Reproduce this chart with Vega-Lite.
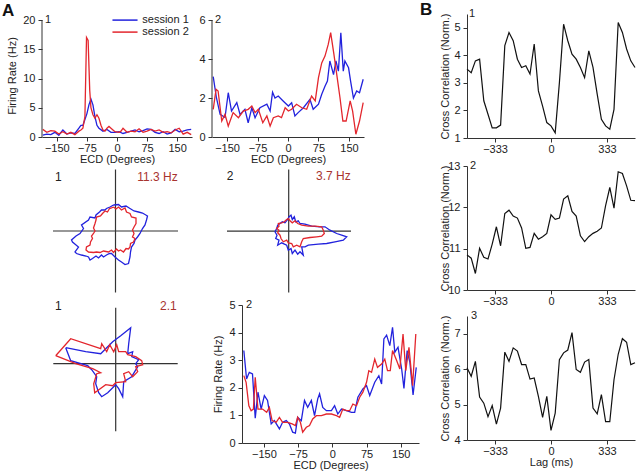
{
 "$schema": "https://vega.github.io/schema/vega-lite/v6.json",
 "padding": {"left": 2, "top": 1, "right": 0, "bottom": 0},
 "background": "white",
 "spacing": 1,
 "config": {
  "font": "Liberation Sans",
  "view": {"stroke": null},
  "axis": {"labelFont": "Liberation Sans", "titleFont": "Liberation Sans", "labelFontSize": 11, "titleFontSize": 11, "titleFontWeight": "normal", "labelColor": "#222", "titleColor": "#222", "domainColor": "#333", "tickColor": "#333", "tickSize": 4, "grid": false, "labelPadding": 3, "labelOverlap": false},
  "axisX": {"labelPadding": 1, "titlePadding": 0.5},
  "axisY": {"titlePadding": 5},
  "text": {"font": "Liberation Sans"}
 },
 "datasets": {
  "c1": [
   {"x":-185,"y":0.3,"s":"session 1"},{"x":-175,"y":0.5,"s":"session 1"},{"x":-165,"y":0.4,"s":"session 1"},{"x":-155,"y":0.8,"s":"session 1"},{"x":-145,"y":0.3,"s":"session 1"},{"x":-135,"y":1.2,"s":"session 1"},{"x":-125,"y":0.5,"s":"session 1"},{"x":-115,"y":0.7,"s":"session 1"},{"x":-105,"y":0.6,"s":"session 1"},{"x":-95,"y":1.5,"s":"session 1"},{"x":-90,"y":2.0,"s":"session 1"},{"x":-85,"y":2.0,"s":"session 1"},{"x":-80,"y":3.0,"s":"session 1"},{"x":-75,"y":4.0,"s":"session 1"},{"x":-70,"y":5.5,"s":"session 1"},{"x":-65,"y":6.5,"s":"session 1"},{"x":-60,"y":5.5,"s":"session 1"},{"x":-55,"y":3.5,"s":"session 1"},{"x":-50,"y":2.0,"s":"session 1"},{"x":-45,"y":1.5,"s":"session 1"},{"x":-35,"y":1.0,"s":"session 1"},{"x":-25,"y":1.3,"s":"session 1"},{"x":-15,"y":0.8,"s":"session 1"},{"x":-5,"y":0.8,"s":"session 1"},{"x":5,"y":0.9,"s":"session 1"},{"x":15,"y":0.6,"s":"session 1"},{"x":25,"y":0.8,"s":"session 1"},{"x":35,"y":1.0,"s":"session 1"},{"x":45,"y":1.2,"s":"session 1"},{"x":55,"y":0.9,"s":"session 1"},{"x":65,"y":1.1,"s":"session 1"},{"x":75,"y":1.4,"s":"session 1"},{"x":85,"y":1.3,"s":"session 1"},{"x":95,"y":0.8,"s":"session 1"},{"x":105,"y":0.6,"s":"session 1"},{"x":115,"y":0.9,"s":"session 1"},{"x":125,"y":0.5,"s":"session 1"},{"x":135,"y":0.7,"s":"session 1"},{"x":145,"y":1.3,"s":"session 1"},{"x":155,"y":0.9,"s":"session 1"},{"x":165,"y":1.0,"s":"session 1"},{"x":175,"y":1.2,"s":"session 1"},{"x":185,"y":1.3,"s":"session 1"},
   {"x":-185,"y":1.3,"s":"session 2"},{"x":-175,"y":0.8,"s":"session 2"},{"x":-165,"y":1.1,"s":"session 2"},{"x":-155,"y":1.0,"s":"session 2"},{"x":-145,"y":0.5,"s":"session 2"},{"x":-135,"y":0.9,"s":"session 2"},{"x":-125,"y":0.5,"s":"session 2"},{"x":-115,"y":0.8,"s":"session 2"},{"x":-105,"y":0.4,"s":"session 2"},{"x":-95,"y":1.0,"s":"session 2"},{"x":-90,"y":1.2,"s":"session 2"},{"x":-85,"y":1.5,"s":"session 2"},{"x":-80,"y":3.5,"s":"session 2"},{"x":-76,"y":17,"s":"session 2"},{"x":-72,"y":16.5,"s":"session 2"},{"x":-68,"y":8,"s":"session 2"},{"x":-65,"y":5,"s":"session 2"},{"x":-60,"y":3.8,"s":"session 2"},{"x":-55,"y":3.2,"s":"session 2"},{"x":-50,"y":3.8,"s":"session 2"},{"x":-45,"y":3.2,"s":"session 2"},{"x":-40,"y":2.0,"s":"session 2"},{"x":-35,"y":1.2,"s":"session 2"},{"x":-30,"y":1.0,"s":"session 2"},{"x":-25,"y":1.5,"s":"session 2"},{"x":-20,"y":1.8,"s":"session 2"},{"x":-15,"y":1.5,"s":"session 2"},{"x":-10,"y":1.2,"s":"session 2"},{"x":-5,"y":0.9,"s":"session 2"},{"x":5,"y":0.8,"s":"session 2"},{"x":10,"y":1.0,"s":"session 2"},{"x":15,"y":1.5,"s":"session 2"},{"x":25,"y":0.8,"s":"session 2"},{"x":35,"y":1.0,"s":"session 2"},{"x":45,"y":0.9,"s":"session 2"},{"x":55,"y":1.4,"s":"session 2"},{"x":65,"y":0.8,"s":"session 2"},{"x":75,"y":1.0,"s":"session 2"},{"x":85,"y":1.3,"s":"session 2"},{"x":95,"y":1.0,"s":"session 2"},{"x":105,"y":1.2,"s":"session 2"},{"x":115,"y":0.8,"s":"session 2"},{"x":125,"y":0.9,"s":"session 2"},{"x":135,"y":0.7,"s":"session 2"},{"x":145,"y":1.2,"s":"session 2"},{"x":155,"y":1.5,"s":"session 2"},{"x":165,"y":0.5,"s":"session 2"},{"x":175,"y":0.8,"s":"session 2"},{"x":185,"y":0.4,"s":"session 2"}
  ],
  "c2": [
   {"x":-184,"y":3.1,"s":"session 1"},{"x":-176,"y":2.0,"s":"session 1"},{"x":-167,"y":1.16,"s":"session 1"},{"x":-155,"y":1.0,"s":"session 1"},{"x":-147,"y":2.27,"s":"session 1"},{"x":-139,"y":1.33,"s":"session 1"},{"x":-126,"y":1.76,"s":"session 1"},{"x":-118,"y":1.16,"s":"session 1"},{"x":-106,"y":1.42,"s":"session 1"},{"x":-98,"y":0.73,"s":"session 1"},{"x":-89,"y":1.5,"s":"session 1"},{"x":-81,"y":0.99,"s":"session 1"},{"x":-69,"y":1.5,"s":"session 1"},{"x":-52,"y":1.68,"s":"session 1"},{"x":-44,"y":1.33,"s":"session 1"},{"x":-38,"y":2.3,"s":"session 1"},{"x":-32,"y":2.0,"s":"session 1"},{"x":-24,"y":2.1,"s":"session 1"},{"x":-12,"y":1.85,"s":"session 1"},{"x":1,"y":1.59,"s":"session 1"},{"x":9,"y":1.76,"s":"session 1"},{"x":17,"y":1.08,"s":"session 1"},{"x":25,"y":1.25,"s":"session 1"},{"x":38,"y":1.5,"s":"session 1"},{"x":54,"y":1.93,"s":"session 1"},{"x":62,"y":1.42,"s":"session 1"},{"x":75,"y":1.68,"s":"session 1"},{"x":83,"y":2.19,"s":"session 1"},{"x":91,"y":2.6,"s":"session 1"},{"x":97,"y":2.87,"s":"session 1"},{"x":103,"y":3.9,"s":"session 1"},{"x":112,"y":3.2,"s":"session 1"},{"x":118,"y":3.9,"s":"session 1"},{"x":124,"y":3.38,"s":"session 1"},{"x":130,"y":5.35,"s":"session 1"},{"x":136,"y":3.38,"s":"session 1"},{"x":140,"y":3.9,"s":"session 1"},{"x":149,"y":3.55,"s":"session 1"},{"x":154,"y":2.87,"s":"session 1"},{"x":161,"y":2.0,"s":"session 1"},{"x":169,"y":2.36,"s":"session 1"},{"x":176,"y":2.27,"s":"session 1"},{"x":185,"y":2.96,"s":"session 1"},
   {"x":-184,"y":1.42,"s":"session 2"},{"x":-177,"y":2.45,"s":"session 2"},{"x":-172,"y":2.36,"s":"session 2"},{"x":-163,"y":0.82,"s":"session 2"},{"x":-155,"y":1.16,"s":"session 2"},{"x":-147,"y":0.56,"s":"session 2"},{"x":-135,"y":1.25,"s":"session 2"},{"x":-122,"y":0.99,"s":"session 2"},{"x":-110,"y":1.33,"s":"session 2"},{"x":-98,"y":1.42,"s":"session 2"},{"x":-89,"y":1.59,"s":"session 2"},{"x":-81,"y":1.25,"s":"session 2"},{"x":-73,"y":1.42,"s":"session 2"},{"x":-62,"y":0.73,"s":"session 2"},{"x":-52,"y":1.08,"s":"session 2"},{"x":-44,"y":0.56,"s":"session 2"},{"x":-36,"y":0.99,"s":"session 2"},{"x":-24,"y":1.08,"s":"session 2"},{"x":-16,"y":0.99,"s":"session 2"},{"x":-7,"y":1.5,"s":"session 2"},{"x":1,"y":1.33,"s":"session 2"},{"x":9,"y":1.42,"s":"session 2"},{"x":21,"y":1.68,"s":"session 2"},{"x":34,"y":1.5,"s":"session 2"},{"x":46,"y":1.42,"s":"session 2"},{"x":58,"y":2.1,"s":"session 2"},{"x":67,"y":1.85,"s":"session 2"},{"x":75,"y":3.04,"s":"session 2"},{"x":83,"y":3.8,"s":"session 2"},{"x":91,"y":4.15,"s":"session 2"},{"x":99,"y":4.75,"s":"session 2"},{"x":105,"y":5.35,"s":"session 2"},{"x":113,"y":4.24,"s":"session 2"},{"x":120,"y":3.2,"s":"session 2"},{"x":128,"y":2.0,"s":"session 2"},{"x":135,"y":0.82,"s":"session 2"},{"x":143,"y":0.82,"s":"session 2"},{"x":153,"y":1.85,"s":"session 2"},{"x":159,"y":1.33,"s":"session 2"},{"x":167,"y":0.14,"s":"session 2"},{"x":176,"y":0.82,"s":"session 2"},{"x":185,"y":1.76,"s":"session 2"}
  ],
  "c4": [
   {"x":-194,"y":3.35,"s":"session 1"},{"x":-188,"y":2.32,"s":"session 1"},{"x":-182,"y":2.56,"s":"session 1"},{"x":-175,"y":2.5,"s":"session 1"},{"x":-169,"y":0.9,"s":"session 1"},{"x":-163,"y":1.84,"s":"session 1"},{"x":-156,"y":1.23,"s":"session 1"},{"x":-149,"y":1.72,"s":"session 1"},{"x":-142,"y":1.54,"s":"session 1"},{"x":-134,"y":0.69,"s":"session 1"},{"x":-127,"y":0.81,"s":"session 1"},{"x":-116,"y":0.51,"s":"session 1"},{"x":-109,"y":0.75,"s":"session 1"},{"x":-101,"y":0.81,"s":"session 1"},{"x":-94,"y":0.69,"s":"session 1"},{"x":-87,"y":0.39,"s":"session 1"},{"x":-81,"y":0.36,"s":"session 1"},{"x":-76,"y":0.93,"s":"session 1"},{"x":-68,"y":0.81,"s":"session 1"},{"x":-61,"y":1.54,"s":"session 1"},{"x":-54,"y":1.29,"s":"session 1"},{"x":-46,"y":1.54,"s":"session 1"},{"x":-39,"y":0.99,"s":"session 1"},{"x":-32,"y":1.6,"s":"session 1"},{"x":-28,"y":1.78,"s":"session 1"},{"x":-21,"y":1.29,"s":"session 1"},{"x":-13,"y":1.17,"s":"session 1"},{"x":-2,"y":1.17,"s":"session 1"},{"x":5,"y":1.35,"s":"session 1"},{"x":12,"y":1.05,"s":"session 1"},{"x":20,"y":1.23,"s":"session 1"},{"x":31,"y":1.17,"s":"session 1"},{"x":42,"y":1.11,"s":"session 1"},{"x":49,"y":1.11,"s":"session 1"},{"x":56,"y":1.66,"s":"session 1"},{"x":67,"y":1.96,"s":"session 1"},{"x":75,"y":2.08,"s":"session 1"},{"x":82,"y":1.72,"s":"session 1"},{"x":93,"y":2.2,"s":"session 1"},{"x":102,"y":2.44,"s":"session 1"},{"x":108,"y":2.14,"s":"session 1"},{"x":113,"y":3.77,"s":"session 1"},{"x":119,"y":3.91,"s":"session 1"},{"x":126,"y":3.53,"s":"session 1"},{"x":132,"y":4.19,"s":"session 1"},{"x":137,"y":3.29,"s":"session 1"},{"x":144,"y":3.47,"s":"session 1"},{"x":152,"y":2.68,"s":"session 1"},{"x":157,"y":1.98,"s":"session 1"},{"x":164,"y":3.35,"s":"session 1"},{"x":170,"y":2.92,"s":"session 1"},{"x":177,"y":1.74,"s":"session 1"},{"x":184,"y":2.74,"s":"session 1"},
   {"x":-194,"y":2.44,"s":"session 2"},{"x":-189,"y":2.2,"s":"session 2"},{"x":-183,"y":1.35,"s":"session 2"},{"x":-178,"y":1.17,"s":"session 2"},{"x":-173,"y":1.23,"s":"session 2"},{"x":-169,"y":2.38,"s":"session 2"},{"x":-163,"y":1.23,"s":"session 2"},{"x":-153,"y":1.23,"s":"session 2"},{"x":-144,"y":1.11,"s":"session 2"},{"x":-138,"y":1.29,"s":"session 2"},{"x":-132,"y":0.81,"s":"session 2"},{"x":-123,"y":0.75,"s":"session 2"},{"x":-116,"y":0.93,"s":"session 2"},{"x":-109,"y":0.75,"s":"session 2"},{"x":-98,"y":0.75,"s":"session 2"},{"x":-88,"y":0.69,"s":"session 2"},{"x":-81,"y":0.63,"s":"session 2"},{"x":-76,"y":0.93,"s":"session 2"},{"x":-70,"y":0.75,"s":"session 2"},{"x":-65,"y":0.39,"s":"session 2"},{"x":-57,"y":0.57,"s":"session 2"},{"x":-50,"y":0.63,"s":"session 2"},{"x":-43,"y":0.87,"s":"session 2"},{"x":-35,"y":0.99,"s":"session 2"},{"x":-24,"y":0.99,"s":"session 2"},{"x":-13,"y":1.05,"s":"session 2"},{"x":-2,"y":1.05,"s":"session 2"},{"x":9,"y":0.99,"s":"session 2"},{"x":16,"y":0.93,"s":"session 2"},{"x":23,"y":1.23,"s":"session 2"},{"x":31,"y":1.17,"s":"session 2"},{"x":38,"y":1.17,"s":"session 2"},{"x":45,"y":1.41,"s":"session 2"},{"x":53,"y":1.35,"s":"session 2"},{"x":60,"y":1.66,"s":"session 2"},{"x":67,"y":1.84,"s":"session 2"},{"x":75,"y":2.2,"s":"session 2"},{"x":80,"y":2.62,"s":"session 2"},{"x":86,"y":2.56,"s":"session 2"},{"x":93,"y":3.04,"s":"session 2"},{"x":99,"y":2.74,"s":"session 2"},{"x":108,"y":2.86,"s":"session 2"},{"x":115,"y":3.04,"s":"session 2"},{"x":121,"y":2.62,"s":"session 2"},{"x":127,"y":2.62,"s":"session 2"},{"x":132,"y":3.35,"s":"session 2"},{"x":141,"y":2.99,"s":"session 2"},{"x":148,"y":2.68,"s":"session 2"},{"x":155,"y":3.95,"s":"session 2"},{"x":161,"y":2.62,"s":"session 2"},{"x":168,"y":3.47,"s":"session 2"},{"x":176,"y":2.08,"s":"session 2"},{"x":183,"y":3.95,"s":"session 2"}
  ],
  "p1": [
   {"i":0,"x":-2,"y":26,"s":"session 1"},{"i":1,"x":3,"y":26.5,"s":"session 1"},{"i":2,"x":6,"y":24,"s":"session 1"},{"i":3,"x":10.5,"y":25,"s":"session 1"},{"i":4,"x":14.5,"y":22.5,"s":"session 1"},{"i":5,"x":18.5,"y":20,"s":"session 1"},{"i":6,"x":23,"y":19,"s":"session 1"},{"i":7,"x":27,"y":18,"s":"session 1"},{"i":8,"x":32,"y":15,"s":"session 1"},{"i":9,"x":31,"y":11,"s":"session 1"},{"i":10,"x":29.5,"y":6,"s":"session 1"},{"i":11,"x":27,"y":2.5,"s":"session 1"},{"i":12,"x":24.5,"y":-2.5,"s":"session 1"},{"i":13,"x":22,"y":-6,"s":"session 1"},{"i":14,"x":19.5,"y":-9,"s":"session 1"},{"i":15,"x":18.5,"y":-12.5,"s":"session 1"},{"i":16,"x":16,"y":-16,"s":"session 1"},{"i":17,"x":15,"y":-21,"s":"session 1"},{"i":18,"x":14.5,"y":-26,"s":"session 1"},{"i":19,"x":13,"y":-32.5,"s":"session 1"},{"i":20,"x":9.5,"y":-33.5,"s":"session 1"},{"i":21,"x":6,"y":-31,"s":"session 1"},{"i":22,"x":3,"y":-29,"s":"session 1"},{"i":23,"x":-0.5,"y":-26,"s":"session 1"},{"i":24,"x":-4,"y":-22.5,"s":"session 1"},{"i":25,"x":-6,"y":-22.5,"s":"session 1"},{"i":26,"x":-9,"y":-24,"s":"session 1"},{"i":27,"x":-12,"y":-26,"s":"session 1"},{"i":28,"x":-14,"y":-24,"s":"session 1"},{"i":29,"x":-17,"y":-27,"s":"session 1"},{"i":30,"x":-19.5,"y":-25,"s":"session 1"},{"i":31,"x":-23,"y":-27.5,"s":"session 1"},{"i":32,"x":-25.5,"y":-29,"s":"session 1"},{"i":33,"x":-27,"y":-26,"s":"session 1"},{"i":34,"x":-29.5,"y":-25,"s":"session 1"},{"i":35,"x":-34,"y":-24,"s":"session 1"},{"i":36,"x":-39,"y":-22.5,"s":"session 1"},{"i":37,"x":-40.5,"y":-21,"s":"session 1"},{"i":38,"x":-37,"y":-16,"s":"session 1"},{"i":39,"x":-43,"y":-11,"s":"session 1"},{"i":40,"x":-44,"y":-9,"s":"session 1"},{"i":41,"x":-39.5,"y":-5,"s":"session 1"},{"i":42,"x":-35.5,"y":-2.5,"s":"session 1"},{"i":43,"x":-32,"y":2.5,"s":"session 1"},{"i":44,"x":-34,"y":6,"s":"session 1"},{"i":45,"x":-27,"y":11,"s":"session 1"},{"i":46,"x":-25.5,"y":14,"s":"session 1"},{"i":47,"x":-20.5,"y":13,"s":"session 1"},{"i":48,"x":-19.5,"y":16,"s":"session 1"},{"i":49,"x":-16,"y":19,"s":"session 1"},{"i":50,"x":-14,"y":21,"s":"session 1"},{"i":51,"x":-10.5,"y":21,"s":"session 1"},{"i":52,"x":-9,"y":22.5,"s":"session 1"},{"i":53,"x":-5.5,"y":24,"s":"session 1"},{"i":54,"x":-2,"y":26,"s":"session 1"},
   {"i":0,"x":-2,"y":24,"s":"session 2"},{"i":1,"x":0.5,"y":22,"s":"session 2"},{"i":2,"x":3,"y":24,"s":"session 2"},{"i":3,"x":6,"y":21,"s":"session 2"},{"i":4,"x":9.5,"y":23,"s":"session 2"},{"i":5,"x":11,"y":19,"s":"session 2"},{"i":6,"x":14.5,"y":17.5,"s":"session 2"},{"i":7,"x":16,"y":14,"s":"session 2"},{"i":8,"x":20.5,"y":13,"s":"session 2"},{"i":9,"x":20.5,"y":7.5,"s":"session 2"},{"i":10,"x":18.5,"y":4,"s":"session 2"},{"i":11,"x":17,"y":1,"s":"session 2"},{"i":12,"x":18.5,"y":-2.5,"s":"session 2"},{"i":13,"x":17,"y":-6,"s":"session 2"},{"i":14,"x":19.5,"y":-7.5,"s":"session 2"},{"i":15,"x":18,"y":-11,"s":"session 2"},{"i":16,"x":15,"y":-12.5,"s":"session 2"},{"i":17,"x":14.5,"y":-16,"s":"session 2"},{"i":18,"x":13,"y":-18,"s":"session 2"},{"i":19,"x":10.5,"y":-17.5,"s":"session 2"},{"i":20,"x":8,"y":-21,"s":"session 2"},{"i":21,"x":5,"y":-19,"s":"session 2"},{"i":22,"x":3,"y":-20,"s":"session 2"},{"i":23,"x":1,"y":-18,"s":"session 2"},{"i":24,"x":-2,"y":-21.5,"s":"session 2"},{"i":25,"x":-4,"y":-19,"s":"session 2"},{"i":26,"x":-7,"y":-21,"s":"session 2"},{"i":27,"x":-12,"y":-20,"s":"session 2"},{"i":28,"x":-15.5,"y":-21.5,"s":"session 2"},{"i":29,"x":-19,"y":-21,"s":"session 2"},{"i":30,"x":-22,"y":-21.5,"s":"session 2"},{"i":31,"x":-27,"y":-21,"s":"session 2"},{"i":32,"x":-29.5,"y":-19,"s":"session 2"},{"i":33,"x":-29,"y":-16,"s":"session 2"},{"i":34,"x":-25.5,"y":-14,"s":"session 2"},{"i":35,"x":-25,"y":-11,"s":"session 2"},{"i":36,"x":-23,"y":-7.5,"s":"session 2"},{"i":37,"x":-24,"y":-5,"s":"session 2"},{"i":38,"x":-22,"y":-2.5,"s":"session 2"},{"i":39,"x":-20.5,"y":0,"s":"session 2"},{"i":40,"x":-22,"y":3,"s":"session 2"},{"i":41,"x":-20.5,"y":7.5,"s":"session 2"},{"i":42,"x":-19.5,"y":11,"s":"session 2"},{"i":43,"x":-19,"y":14,"s":"session 2"},{"i":44,"x":-15,"y":15,"s":"session 2"},{"i":45,"x":-13,"y":17.5,"s":"session 2"},{"i":46,"x":-10.5,"y":20,"s":"session 2"},{"i":47,"x":-8,"y":19,"s":"session 2"},{"i":48,"x":-6,"y":22.5,"s":"session 2"},{"i":49,"x":-4,"y":23,"s":"session 2"},{"i":50,"x":-2,"y":24,"s":"session 2"}
  ],
  "p2": [
   {"i":0,"x":0.3,"y":14.5,"s":"session 1"},{"i":1,"x":2.3,"y":16,"s":"session 1"},{"i":2,"x":3.6,"y":11.7,"s":"session 1"},{"i":3,"x":5.6,"y":14.4,"s":"session 1"},{"i":4,"x":7,"y":9.4,"s":"session 1"},{"i":5,"x":9.6,"y":10.4,"s":"session 1"},{"i":6,"x":11.3,"y":7.7,"s":"session 1"},{"i":7,"x":16.3,"y":7,"s":"session 1"},{"i":8,"x":23,"y":5,"s":"session 1"},{"i":9,"x":31.3,"y":4.4,"s":"session 1"},{"i":10,"x":36.3,"y":4.4,"s":"session 1"},{"i":11,"x":41.3,"y":1,"s":"session 1"},{"i":12,"x":48,"y":-2.3,"s":"session 1"},{"i":13,"x":53,"y":-4,"s":"session 1"},{"i":14,"x":58,"y":-5.6,"s":"session 1"},{"i":15,"x":54.6,"y":-9,"s":"session 1"},{"i":16,"x":46.3,"y":-10.6,"s":"session 1"},{"i":17,"x":38,"y":-12.3,"s":"session 1"},{"i":18,"x":29.6,"y":-13,"s":"session 1"},{"i":19,"x":19.6,"y":-14,"s":"session 1"},{"i":20,"x":16.3,"y":-15.6,"s":"session 1"},{"i":21,"x":13,"y":-15.6,"s":"session 1"},{"i":22,"x":14.6,"y":-24,"s":"session 1"},{"i":23,"x":11.3,"y":-20.6,"s":"session 1"},{"i":24,"x":9,"y":-23,"s":"session 1"},{"i":25,"x":6.3,"y":-19,"s":"session 1"},{"i":26,"x":3.6,"y":-22.3,"s":"session 1"},{"i":27,"x":2.3,"y":-17.3,"s":"session 1"},{"i":28,"x":-0.4,"y":-19,"s":"session 1"},{"i":29,"x":-2,"y":-14,"s":"session 1"},{"i":30,"x":-7,"y":-11.6,"s":"session 1"},{"i":31,"x":-11,"y":-14,"s":"session 1"},{"i":32,"x":-9.7,"y":-9,"s":"session 1"},{"i":33,"x":-13,"y":-7.3,"s":"session 1"},{"i":34,"x":-11.7,"y":-4,"s":"session 1"},{"i":35,"x":-13.7,"y":-0.6,"s":"session 1"},{"i":36,"x":-12,"y":2.7,"s":"session 1"},{"i":37,"x":-11,"y":6,"s":"session 1"},{"i":38,"x":-8.7,"y":7.7,"s":"session 1"},{"i":39,"x":-6.4,"y":9.4,"s":"session 1"},{"i":40,"x":-3.7,"y":8.4,"s":"session 1"},{"i":41,"x":-1,"y":11.7,"s":"session 1"},{"i":42,"x":0.3,"y":14.5,"s":"session 1"},
   {"i":0,"x":-0.4,"y":12.7,"s":"session 2"},{"i":1,"x":1.3,"y":10.4,"s":"session 2"},{"i":2,"x":3.6,"y":8.4,"s":"session 2"},{"i":3,"x":6.3,"y":10.4,"s":"session 2"},{"i":4,"x":9,"y":7.7,"s":"session 2"},{"i":5,"x":13,"y":6,"s":"session 2"},{"i":6,"x":19.6,"y":5,"s":"session 2"},{"i":7,"x":26.3,"y":5,"s":"session 2"},{"i":8,"x":33,"y":4.4,"s":"session 2"},{"i":9,"x":34.6,"y":1,"s":"session 2"},{"i":10,"x":35.6,"y":-2.3,"s":"session 2"},{"i":11,"x":33,"y":-5,"s":"session 2"},{"i":12,"x":28,"y":-5.6,"s":"session 2"},{"i":13,"x":21.3,"y":-6.3,"s":"session 2"},{"i":14,"x":14.6,"y":-7.3,"s":"session 2"},{"i":15,"x":13,"y":-10.6,"s":"session 2"},{"i":16,"x":11.3,"y":-15.6,"s":"session 2"},{"i":17,"x":8,"y":-14,"s":"session 2"},{"i":18,"x":4.6,"y":-15.6,"s":"session 2"},{"i":19,"x":3,"y":-12.3,"s":"session 2"},{"i":20,"x":-0.4,"y":-11.6,"s":"session 2"},{"i":21,"x":-2,"y":-9,"s":"session 2"},{"i":22,"x":-5.4,"y":-10.6,"s":"session 2"},{"i":23,"x":-7.7,"y":-7.3,"s":"session 2"},{"i":24,"x":-8.7,"y":-4,"s":"session 2"},{"i":25,"x":-11,"y":-1.6,"s":"session 2"},{"i":26,"x":-9.7,"y":1,"s":"session 2"},{"i":27,"x":-12,"y":2.7,"s":"session 2"},{"i":28,"x":-9.7,"y":5,"s":"session 2"},{"i":29,"x":-10.4,"y":7.7,"s":"session 2"},{"i":30,"x":-7,"y":8.4,"s":"session 2"},{"i":31,"x":-4.4,"y":9.4,"s":"session 2"},{"i":32,"x":-2,"y":11.7,"s":"session 2"},{"i":33,"x":-0.4,"y":12.7,"s":"session 2"}
  ],
  "p3": [
   {"i":0,"x":-50,"y":16,"s":"session 1"},{"i":1,"x":-30,"y":12,"s":"session 1"},{"i":2,"x":-15,"y":10,"s":"session 1"},{"i":3,"x":-8,"y":17,"s":"session 1"},{"i":4,"x":-3,"y":22,"s":"session 1"},{"i":5,"x":5,"y":28,"s":"session 1"},{"i":6,"x":15,"y":36,"s":"session 1"},{"i":7,"x":13,"y":20,"s":"session 1"},{"i":8,"x":12,"y":10,"s":"session 1"},{"i":9,"x":17,"y":12,"s":"session 1"},{"i":10,"x":16,"y":7,"s":"session 1"},{"i":11,"x":23,"y":4,"s":"session 1"},{"i":12,"x":20,"y":0,"s":"session 1"},{"i":13,"x":22,"y":-3,"s":"session 1"},{"i":14,"x":19,"y":-8,"s":"session 1"},{"i":15,"x":16,"y":-13,"s":"session 1"},{"i":16,"x":8,"y":-18,"s":"session 1"},{"i":17,"x":7,"y":-33,"s":"session 1"},{"i":18,"x":3,"y":-25,"s":"session 1"},{"i":19,"x":0,"y":-21,"s":"session 1"},{"i":20,"x":-8,"y":-29,"s":"session 1"},{"i":21,"x":-14,"y":-33,"s":"session 1"},{"i":22,"x":-17,"y":-29,"s":"session 1"},{"i":23,"x":-20,"y":-20,"s":"session 1"},{"i":24,"x":-19,"y":-13,"s":"session 1"},{"i":25,"x":-24,"y":-6,"s":"session 1"},{"i":26,"x":-28,"y":-2,"s":"session 1"},{"i":27,"x":-45,"y":3,"s":"session 1"},{"i":28,"x":-50,"y":16,"s":"session 1"},
   {"i":0,"x":-60,"y":8,"s":"session 2"},{"i":1,"x":-45,"y":25,"s":"session 2"},{"i":2,"x":-15,"y":15,"s":"session 2"},{"i":3,"x":-14,"y":20,"s":"session 2"},{"i":4,"x":-9,"y":12,"s":"session 2"},{"i":5,"x":-6,"y":19,"s":"session 2"},{"i":6,"x":-2,"y":12,"s":"session 2"},{"i":7,"x":1,"y":19,"s":"session 2"},{"i":8,"x":3,"y":12,"s":"session 2"},{"i":9,"x":10,"y":12,"s":"session 2"},{"i":10,"x":12,"y":9,"s":"session 2"},{"i":11,"x":20,"y":7,"s":"session 2"},{"i":12,"x":26,"y":3,"s":"session 2"},{"i":13,"x":27,"y":-1,"s":"session 2"},{"i":14,"x":20,"y":-3,"s":"session 2"},{"i":15,"x":22,"y":-8,"s":"session 2"},{"i":16,"x":17,"y":-13,"s":"session 2"},{"i":17,"x":13,"y":-8,"s":"session 2"},{"i":18,"x":8,"y":-10,"s":"session 2"},{"i":19,"x":10,"y":-18,"s":"session 2"},{"i":20,"x":0,"y":-19,"s":"session 2"},{"i":21,"x":-3,"y":-22,"s":"session 2"},{"i":22,"x":-10,"y":-21,"s":"session 2"},{"i":23,"x":-21,"y":-29,"s":"session 2"},{"i":24,"x":-22,"y":-20,"s":"session 2"},{"i":25,"x":-19,"y":-10,"s":"session 2"},{"i":26,"x":-15,"y":-9,"s":"session 2"},{"i":27,"x":-23,"y":-5,"s":"session 2"},{"i":28,"x":-40,"y":0,"s":"session 2"},{"i":29,"x":-60,"y":8,"s":"session 2"}
  ],
  "b1": [
   {"t":-500,"v":3.5},{"t":-475,"v":3.37},{"t":-450,"v":3.8},{"t":-425,"v":3.86},{"t":-400,"v":2.35},{"t":-375,"v":1.86},{"t":-350,"v":1.37},{"t":-325,"v":1.37},{"t":-300,"v":1.47},{"t":-275,"v":4.35},{"t":-250,"v":4.83},{"t":-225,"v":4.53},{"t":-200,"v":3.86},{"t":-175,"v":3.56},{"t":-150,"v":3.62},{"t":-125,"v":3.32},{"t":-100,"v":4.41},{"t":-75,"v":2.71},{"t":-50,"v":2.16},{"t":-25,"v":1.56},{"t":0,"v":1.44},{"t":25,"v":1.19},{"t":50,"v":3.01},{"t":75,"v":5.13},{"t":100,"v":4.53},{"t":125,"v":4.04},{"t":150,"v":3.86},{"t":175,"v":3.56},{"t":200,"v":3.19},{"t":225,"v":4.16},{"t":250,"v":3.56},{"t":275,"v":2.59},{"t":300,"v":1.68},{"t":325,"v":1.44},{"t":350,"v":1.32},{"t":375,"v":2.04},{"t":400,"v":5.19},{"t":425,"v":4.83},{"t":450,"v":4.23},{"t":475,"v":3.8},{"t":500,"v":3.56}
  ],
  "b2": [
   {"t":-500,"v":10.85},{"t":-475,"v":10.77},{"t":-450,"v":10.4},{"t":-425,"v":11.01},{"t":-400,"v":10.79},{"t":-375,"v":10.75},{"t":-350,"v":11.11},{"t":-325,"v":11.53},{"t":-300,"v":11.07},{"t":-275,"v":11.85},{"t":-250,"v":11.93},{"t":-225,"v":11.79},{"t":-200,"v":11.74},{"t":-175,"v":11.5},{"t":-150,"v":11.01},{"t":-125,"v":11.03},{"t":-100,"v":11.37},{"t":-75,"v":11.23},{"t":-50,"v":11.29},{"t":-25,"v":11.37},{"t":0,"v":11.82},{"t":25,"v":11.71},{"t":50,"v":11.74},{"t":75,"v":12.2},{"t":100,"v":12.28},{"t":125,"v":11.9},{"t":150,"v":11.79},{"t":175,"v":11.31},{"t":200,"v":11.17},{"t":225,"v":11.29},{"t":250,"v":11.37},{"t":275,"v":11.42},{"t":300,"v":11.5},{"t":325,"v":12.04},{"t":350,"v":12.48},{"t":375,"v":11.98},{"t":400,"v":12.86},{"t":425,"v":12.82},{"t":450,"v":12.52},{"t":475,"v":12.17},{"t":500,"v":12.16}
  ],
  "b3": [
   {"t":-500,"v":6.04},{"t":-475,"v":5.8},{"t":-450,"v":6.22},{"t":-425,"v":5.21},{"t":-400,"v":5.04},{"t":-375,"v":4.66},{"t":-350,"v":4.97},{"t":-325,"v":4.45},{"t":-300,"v":4.9},{"t":-275,"v":6.48},{"t":-250,"v":6.22},{"t":-225,"v":6.6},{"t":-200,"v":6.51},{"t":-175,"v":6.13},{"t":-150,"v":6.13},{"t":-125,"v":5.72},{"t":-100,"v":5.75},{"t":-75,"v":5.23},{"t":-50,"v":4.64},{"t":-25,"v":5.23},{"t":0,"v":4.27},{"t":25,"v":4.76},{"t":50,"v":6.27},{"t":75,"v":6.46},{"t":100,"v":6.54},{"t":125,"v":7.03},{"t":150,"v":5.99},{"t":175,"v":5.91},{"t":200,"v":6.2},{"t":225,"v":6.27},{"t":250,"v":4.9},{"t":275,"v":4.74},{"t":300,"v":5.28},{"t":325,"v":4.52},{"t":350,"v":4.52},{"t":375,"v":5.7},{"t":400,"v":6.42},{"t":425,"v":6.86},{"t":450,"v":6.76},{"t":475,"v":6.13},{"t":500,"v":6.18}
  ]
 },
 "hconcat": [
  {
   "spacing": 2.5,
   "vconcat": [
    {
     "bounds": "flush", "spacing": 20,
     "resolve": {"legend": {"color": "independent"}},
     "hconcat": [
      {
       "width": 150, "height": 123,
       "layer": [
        {"data": {"name": "c1"}, "mark": {"type": "line", "strokeWidth": 1.3},
         "encoding": {
          "x": {"field": "x", "type": "quantitative", "scale": {"domain": [-187, 187], "nice": false}, "axis": {"values": [-150, -75, 0, 75, 150], "tickCount": 20, "format": "d", "title": "ECD (Degrees)", "labelOverlap": false}},
          "y": {"field": "y", "type": "quantitative", "scale": {"domain": [0, 21.026], "nice": false}, "axis": {"values": [0, 5, 10, 15, 20], "tickCount": 20, "format": "d", "title": "Firing Rate (Hz)", "domain": false, "labelOverlap": false}},
          "color": {"field": "s", "type": "nominal", "scale": {"domain": ["session 1", "session 2"], "range": ["#2222dd", "#e3262d"]},
                    "legend": {"orient": "none", "legendX": 76.5, "legendY": -0.4, "title": null, "symbolType": "M-2.2,0H2.2", "symbolSize": 130, "symbolStrokeWidth": 1.5, "labelFontSize": 11, "labelFont": "Liberation Sans", "labelColor": "#222", "labelOffset": 10.8, "rowPadding": 0, "padding": 0}}
         }},
        {"data": {"values": [{}]}, "mark": {"type": "rule", "color": "#333", "strokeWidth": 1},
         "encoding": {"x": {"datum": -187}, "y": {"datum": 0}, "y2": {"datum": 20}}},
        {"data": {"values": [{}]}, "mark": {"type": "text", "text": "1", "align": "left", "baseline": "middle", "dx": 3, "fontSize": 11, "color": "#222"},
         "encoding": {"x": {"datum": -187}, "y": {"datum": 20}}},
        {"data": {"values": [{}]}, "mark": {"type": "text", "text": "A", "align": "left", "baseline": "middle", "dx": -40, "dy": -9.5, "fontSize": 17, "fontWeight": "bold", "color": "#111"},
         "encoding": {"x": {"datum": -187}, "y": {"datum": 20}}}
       ]
      },
      {
       "width": 152, "height": 123,
       "layer": [
        {"data": {"name": "c2"}, "mark": {"type": "line", "strokeWidth": 1.3},
         "encoding": {
          "x": {"field": "x", "type": "quantitative", "scale": {"domain": [-187, 187], "nice": false}, "axis": {"values": [-150, -75, 0, 75, 150], "tickCount": 20, "format": "d", "title": "ECD (Degrees)", "labelOverlap": false}},
          "y": {"field": "y", "type": "quantitative", "scale": {"domain": [0, 6.308], "nice": false}, "axis": {"values": [0, 2, 4, 6], "tickCount": 20, "format": "d", "title": null, "domain": false, "labelOverlap": false}},
          "color": {"field": "s", "type": "nominal", "scale": {"domain": ["session 1", "session 2"], "range": ["#2222dd", "#e3262d"]}, "legend": null}
         }},
        {"data": {"values": [{}]}, "mark": {"type": "rule", "color": "#333", "strokeWidth": 1},
         "encoding": {"x": {"datum": -187}, "y": {"datum": 0}, "y2": {"datum": 6}}},
        {"data": {"values": [{}]}, "mark": {"type": "text", "text": "2", "align": "left", "baseline": "middle", "dx": 3, "fontSize": 11, "color": "#222"},
         "encoding": {"x": {"datum": -187}, "y": {"datum": 6}}}
       ]
      }
     ]
    },
    {
     "bounds": "flush", "spacing": 20,
     "hconcat": [
      {
       "width": 150, "height": 129,
       "layer": [
        {"data": {"values": [{}]}, "mark": {"type": "rule", "color": "#333", "strokeWidth": 1.2},
         "encoding": {"x": {"datum": -62.5, "scale": {"domain": [-73.5, 76.5], "nice": false}, "axis": null}, "x2": {"datum": 62.5}, "y": {"datum": 0, "scale": {"domain": [-65.5, 63.5], "nice": false}, "axis": null}}},
        {"data": {"values": [{}]}, "mark": {"type": "rule", "color": "#333", "strokeWidth": 1.2},
         "encoding": {"x": {"datum": 0, "scale": {"domain": [-73.5, 76.5], "nice": false}, "axis": null}, "y": {"datum": -61.5, "scale": {"domain": [-65.5, 63.5], "nice": false}, "axis": null}, "y2": {"datum": 61.5}}},
        {"data": {"name": "p1"}, "mark": {"type": "line", "strokeWidth": 1.3},
         "encoding": {
          "x": {"field": "x", "type": "quantitative", "scale": {"domain": [-73.5, 76.5], "nice": false}, "axis": null},
          "y": {"field": "y", "type": "quantitative", "scale": {"domain": [-65.5, 63.5], "nice": false}, "axis": null},
          "order": {"field": "i", "type": "quantitative"},
          "color": {"field": "s", "type": "nominal", "scale": {"domain": ["session 1", "session 2"], "range": ["#2222dd", "#e3262d"]}, "legend": null}
         }},
        {"data": {"values": [{}]}, "mark": {"type": "text", "text": "1", "align": "left", "baseline": "middle", "fontSize": 12, "color": "#222"},
         "encoding": {"x": {"datum": -60.5, "scale": {"domain": [-73.5, 76.5], "nice": false}, "axis": null}, "y": {"datum": 54.5, "scale": {"domain": [-65.5, 63.5], "nice": false}, "axis": null}}},
        {"data": {"values": [{}]}, "mark": {"type": "text", "text": "11.3 Hz", "align": "right", "baseline": "middle", "fontSize": 12, "color": "#a8342f"},
         "encoding": {"x": {"datum": 62.2, "scale": {"domain": [-73.5, 76.5], "nice": false}, "axis": null}, "y": {"datum": 54.5, "scale": {"domain": [-65.5, 63.5], "nice": false}, "axis": null}}}
       ]
      },
      {
       "width": 154, "height": 129,
       "layer": [
        {"data": {"values": [{}]}, "mark": {"type": "rule", "color": "#333", "strokeWidth": 1.2},
         "encoding": {"x": {"datum": -61.7, "scale": {"domain": [-76.7, 77.3], "nice": false}, "axis": null}, "x2": {"datum": 62.3}, "y": {"datum": 0, "scale": {"domain": [-65.3, 63.7], "nice": false}, "axis": null}}},
        {"data": {"values": [{}]}, "mark": {"type": "rule", "color": "#333", "strokeWidth": 1.2},
         "encoding": {"x": {"datum": 0, "scale": {"domain": [-76.7, 77.3], "nice": false}, "axis": null}, "y": {"datum": -61.3, "scale": {"domain": [-65.3, 63.7], "nice": false}, "axis": null}, "y2": {"datum": 61.7}}},
        {"data": {"name": "p2"}, "mark": {"type": "line", "strokeWidth": 1.3},
         "encoding": {
          "x": {"field": "x", "type": "quantitative", "scale": {"domain": [-76.7, 77.3], "nice": false}, "axis": null},
          "y": {"field": "y", "type": "quantitative", "scale": {"domain": [-65.3, 63.7], "nice": false}, "axis": null},
          "order": {"field": "i", "type": "quantitative"},
          "color": {"field": "s", "type": "nominal", "scale": {"domain": ["session 1", "session 2"], "range": ["#2222dd", "#e3262d"]}, "legend": null}
         }},
        {"data": {"values": [{}]}, "mark": {"type": "text", "text": "2", "align": "left", "baseline": "middle", "fontSize": 12, "color": "#222"},
         "encoding": {"x": {"datum": -62, "scale": {"domain": [-76.7, 77.3], "nice": false}, "axis": null}, "y": {"datum": 55, "scale": {"domain": [-65.3, 63.7], "nice": false}, "axis": null}}},
        {"data": {"values": [{}]}, "mark": {"type": "text", "text": "3.7 Hz", "align": "right", "baseline": "middle", "fontSize": 12, "color": "#a8342f"},
         "encoding": {"x": {"datum": 62, "scale": {"domain": [-76.7, 77.3], "nice": false}, "axis": null}, "y": {"datum": 55, "scale": {"domain": [-65.3, 63.7], "nice": false}, "axis": null}}}
       ]
      }
     ]
    },
    {
     "bounds": "flush", "spacing": 50,
     "hconcat": [
      {
       "width": 150, "height": 127,
       "layer": [
        {"data": {"values": [{}]}, "mark": {"type": "rule", "color": "#333", "strokeWidth": 1.2},
         "encoding": {"x": {"datum": -62.4, "scale": {"domain": [-73.7, 76.3], "nice": false}, "axis": null}, "x2": {"datum": 62}, "y": {"datum": 0, "scale": {"domain": [-68.3, 58.7], "nice": false}, "axis": null}}},
        {"data": {"values": [{}]}, "mark": {"type": "rule", "color": "#333", "strokeWidth": 1.2},
         "encoding": {"x": {"datum": 0, "scale": {"domain": [-73.7, 76.3], "nice": false}, "axis": null}, "y": {"datum": -67.6, "scale": {"domain": [-68.3, 58.7], "nice": false}, "axis": null}, "y2": {"datum": 56}}},
        {"data": {"name": "p3"}, "mark": {"type": "line", "strokeWidth": 1.3},
         "encoding": {
          "x": {"field": "x", "type": "quantitative", "scale": {"domain": [-73.7, 76.3], "nice": false}, "axis": null},
          "y": {"field": "y", "type": "quantitative", "scale": {"domain": [-68.3, 58.7], "nice": false}, "axis": null},
          "order": {"field": "i", "type": "quantitative"},
          "color": {"field": "s", "type": "nominal", "scale": {"domain": ["session 1", "session 2"], "range": ["#2222dd", "#e3262d"]}, "legend": null}
         }},
        {"data": {"values": [{}]}, "mark": {"type": "text", "text": "1", "align": "left", "baseline": "middle", "fontSize": 12, "color": "#222"},
         "encoding": {"x": {"datum": -60.7, "scale": {"domain": [-73.7, 76.3], "nice": false}, "axis": null}, "y": {"datum": 58.2, "scale": {"domain": [-68.3, 58.7], "nice": false}, "axis": null}}},
        {"data": {"values": [{}]}, "mark": {"type": "text", "text": "2.1", "align": "right", "baseline": "middle", "fontSize": 12, "color": "#a8342f"},
         "encoding": {"x": {"datum": 61, "scale": {"domain": [-73.7, 76.3], "nice": false}, "axis": null}, "y": {"datum": 58.2, "scale": {"domain": [-68.3, 58.7], "nice": false}, "axis": null}}}
       ]
      },
      {
       "width": 177, "height": 138,
       "layer": [
        {"data": {"name": "c4"}, "mark": {"type": "line", "strokeWidth": 1.3},
         "encoding": {
          "x": {"field": "x", "type": "quantitative", "scale": {"domain": [-198, 190], "nice": false}, "axis": {"values": [-150, -75, 0, 75, 150], "tickCount": 20, "format": "d", "title": "ECD (Degrees)", "labelOverlap": false}},
          "y": {"field": "y", "type": "quantitative", "scale": {"domain": [0, 5], "nice": false}, "axis": {"values": [0, 1, 2, 3, 4, 5], "tickCount": 20, "format": "d", "title": "Firing Rate (Hz)", "labelOverlap": false}},
          "color": {"field": "s", "type": "nominal", "scale": {"domain": ["session 1", "session 2"], "range": ["#2222dd", "#e3262d"]}, "legend": null}
         }},
        {"data": {"values": [{}]}, "mark": {"type": "text", "text": "2", "align": "left", "baseline": "middle", "dx": 4, "fontSize": 11, "color": "#222"},
         "encoding": {"x": {"datum": -198}, "y": {"datum": 5}}}
       ]
      }
     ]
    }
   ]
  },
  {
   "bounds": "flush", "spacing": 28,
   "vconcat": [
    {
     "width": 168, "height": 124,
     "layer": [
      {"data": {"name": "b1"}, "mark": {"type": "line", "strokeWidth": 1.2, "color": "#111"},
       "encoding": {
        "x": {"field": "t", "type": "quantitative", "scale": {"domain": [-500, 500], "nice": false}, "axis": {"values": [-333, 0, 333], "tickCount": 20, "format": "d", "title": null, "labelOverlap": false}},
        "y": {"field": "v", "type": "quantitative", "scale": {"domain": [1, 5.5], "nice": false}, "axis": {"values": [1, 2, 3, 4, 5], "tickCount": 20, "format": "d", "title": "Cross Correlation (Norm.)", "minExtent": 14, "maxExtent": 14, "titlePadding": 3, "labelOverlap": false}}
       }},
      {"data": {"values": [{}]}, "mark": {"type": "text", "text": "1", "align": "left", "baseline": "middle", "dx": 2, "fontSize": 11, "color": "#222"},
       "encoding": {"x": {"datum": -500}, "y": {"datum": 5.5}}},
      {"data": {"values": [{}]}, "mark": {"type": "text", "text": "B", "align": "left", "baseline": "middle", "dx": -47, "dy": -4, "fontSize": 17, "fontWeight": "bold", "color": "#111"},
       "encoding": {"x": {"datum": -500}, "y": {"datum": 5.5}}}
     ]
    },
    {
     "bounds": "flush", "spacing": 26,
     "vconcat": [
      {
       "width": 168, "height": 124,
       "layer": [
        {"data": {"name": "b2"}, "mark": {"type": "line", "strokeWidth": 1.2, "color": "#111"},
         "encoding": {
          "x": {"field": "t", "type": "quantitative", "scale": {"domain": [-500, 500], "nice": false}, "axis": {"values": [-333, 0, 333], "tickCount": 20, "format": "d", "title": null, "labelOverlap": false}},
          "y": {"field": "v", "type": "quantitative", "scale": {"domain": [10, 13], "nice": false}, "axis": {"values": [10, 11, 12, 13], "tickCount": 20, "format": "d", "title": "Cross Correlation (Norm.)", "minExtent": 14, "maxExtent": 14, "titlePadding": 3, "labelOverlap": false}}
         }},
        {"data": {"values": [{}]}, "mark": {"type": "text", "text": "2", "align": "left", "baseline": "middle", "dx": 3, "fontSize": 11, "color": "#222"},
         "encoding": {"x": {"datum": -500}, "y": {"datum": 13}}}
       ]
      },
      {
       "width": 168, "height": 124,
       "layer": [
        {"data": {"name": "b3"}, "mark": {"type": "line", "strokeWidth": 1.2, "color": "#111"},
         "encoding": {
          "x": {"field": "t", "type": "quantitative", "scale": {"domain": [-500, 500], "nice": false}, "axis": {"values": [-333, 0, 333], "tickCount": 20, "format": "d", "title": "Lag (ms)", "labelOverlap": false}},
          "y": {"field": "v", "type": "quantitative", "scale": {"domain": [4, 7.5], "nice": false}, "axis": {"values": [4, 5, 6, 7], "tickCount": 20, "format": "d", "title": "Cross Correlation (Norm.)", "minExtent": 14, "maxExtent": 14, "titlePadding": 3, "labelOverlap": false}}
         }},
        {"data": {"values": [{}]}, "mark": {"type": "text", "text": "3", "align": "left", "baseline": "middle", "dx": 4, "fontSize": 11, "color": "#222"},
         "encoding": {"x": {"datum": -500}, "y": {"datum": 7.5}}}
       ]
      }
     ]
    }
   ]
  }
 ]
}
